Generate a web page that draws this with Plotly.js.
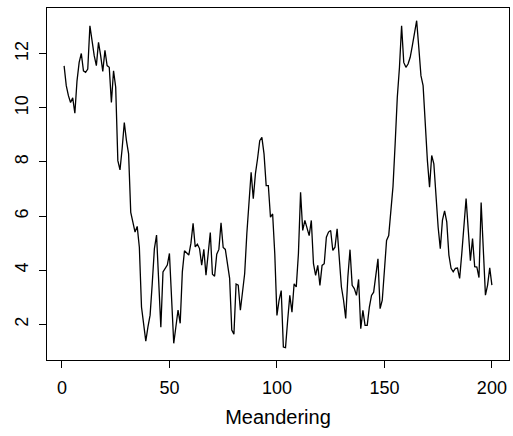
<!DOCTYPE html>
<html>
<head>
<meta charset="utf-8">
<script src="https://cdn.plot.ly/plotly-3.0.1.min.js"></script>
<style>html,body{margin:0;padding:0;background:#fff;}#chart{width:513px;height:436px;}</style>
</head>
<body>
<div id="chart"></div>
<script>
var values = [
11.55,10.82,10.45,10.2,10.37,9.80,11.0,11.68,12.01,11.37,
11.31,11.43,13.03,12.42,11.93,11.56,12.42,11.93,11.35,12.13,
11.56,11.5,10.2,11.37,10.76,8.05,7.71,8.5,9.46,8.79,
8.30,6.14,5.77,5.41,5.62,4.85,2.64,1.96,1.38,1.91,
2.34,3.51,4.80,5.30,3.52,1.89,3.94,4.07,4.19,4.62,
3.02,1.30,1.91,2.53,2.04,3.94,4.72,4.64,4.56,5.0,
5.73,4.86,4.96,4.80,4.19,4.77,3.82,4.6,5.39,3.85,
3.78,4.59,4.77,5.75,4.84,4.77,4.31,3.70,1.79,1.64,
3.49,3.45,2.52,3.14,3.88,5.35,6.58,7.62,6.64,7.57,
8.13,8.79,8.91,8.30,7.13,7.13,5.96,6.08,4.61,2.33,
2.89,3.25,1.16,1.14,2.15,3.07,2.45,3.50,3.38,4.61,
6.88,5.47,5.84,5.59,5.28,5.84,4.24,3.81,4.18,3.44,
4.18,4.24,5.22,5.41,5.47,4.73,4.85,5.53,4.48,3.38,
2.89,2.22,3.75,4.76,3.44,3.32,3.07,3.66,1.84,2.52,
1.96,1.96,2.64,3.07,3.19,3.75,4.42,2.58,2.89,3.99,
5.10,5.28,6.1,7.1,8.68,10.39,11.49,13.03,11.68,11.5,
11.62,11.87,12.30,12.73,13.22,12.23,11.19,10.82,9.28,8.05,
7.07,8.24,7.93,6.70,5.59,4.80,5.85,6.19,5.79,4.56,
4.07,3.94,4.07,4.08,3.70,4.62,5.73,6.65,5.5,4.35,
5.17,4.13,4.12,3.73,6.50,4.7,3.08,3.45,4.09,3.45
];
var index = values.map(function(v, i){ return i + 1; });
var xTicks = [0, 50, 100, 150, 200];
var yTicks = [2, 4, 6, 8, 10, 12];
var xTitle = "Meandering";

var trace = {
  x: index, y: values, type: 'scatter', mode: 'lines',
  line: {color: '#000000', width: 1.3}, hoverinfo: 'none'
};
var font = {family: 'Liberation Sans, Arial, sans-serif', size: 18, color: '#000000'};
var titleFont = {family: 'Liberation Sans, Arial, sans-serif', size: 20, color: '#000000'};
var layout = {
  width: 513, height: 436,
  margin: {l: 47, r: 3.5, t: 7.5, b: 76, pad: 0},
  paper_bgcolor: '#ffffff', plot_bgcolor: '#ffffff',
  showlegend: false,
  font: font,
  xaxis: {
    range: [-6.96, 207.96], tickmode: 'array', tickvals: xTicks,
    ticktext: xTicks.map(String),
    ticks: 'outside', ticklen: 7, tickwidth: 1, tickcolor: '#000000',
    showline: true, mirror: true, linecolor: '#000000', linewidth: 1,
    showgrid: false, zeroline: false, tickfont: font,
    ticklabelstandoff: 4,
    title: {text: xTitle, font: titleFont, standoff: 13}
  },
  yaxis: {
    range: [0.683, 13.69], tickmode: 'array', tickvals: yTicks,
    ticktext: yTicks.map(String), tickangle: -90,
    ticks: 'outside', ticklen: 7, tickwidth: 1, tickcolor: '#000000',
    showline: true, mirror: true, linecolor: '#000000', linewidth: 1,
    showgrid: false, zeroline: false, tickfont: font,
    ticklabelstandoff: 4
  }
};
Plotly.newPlot('chart', [trace], layout, {staticPlot: true, displayModeBar: false});
</script>
</body>
</html>
